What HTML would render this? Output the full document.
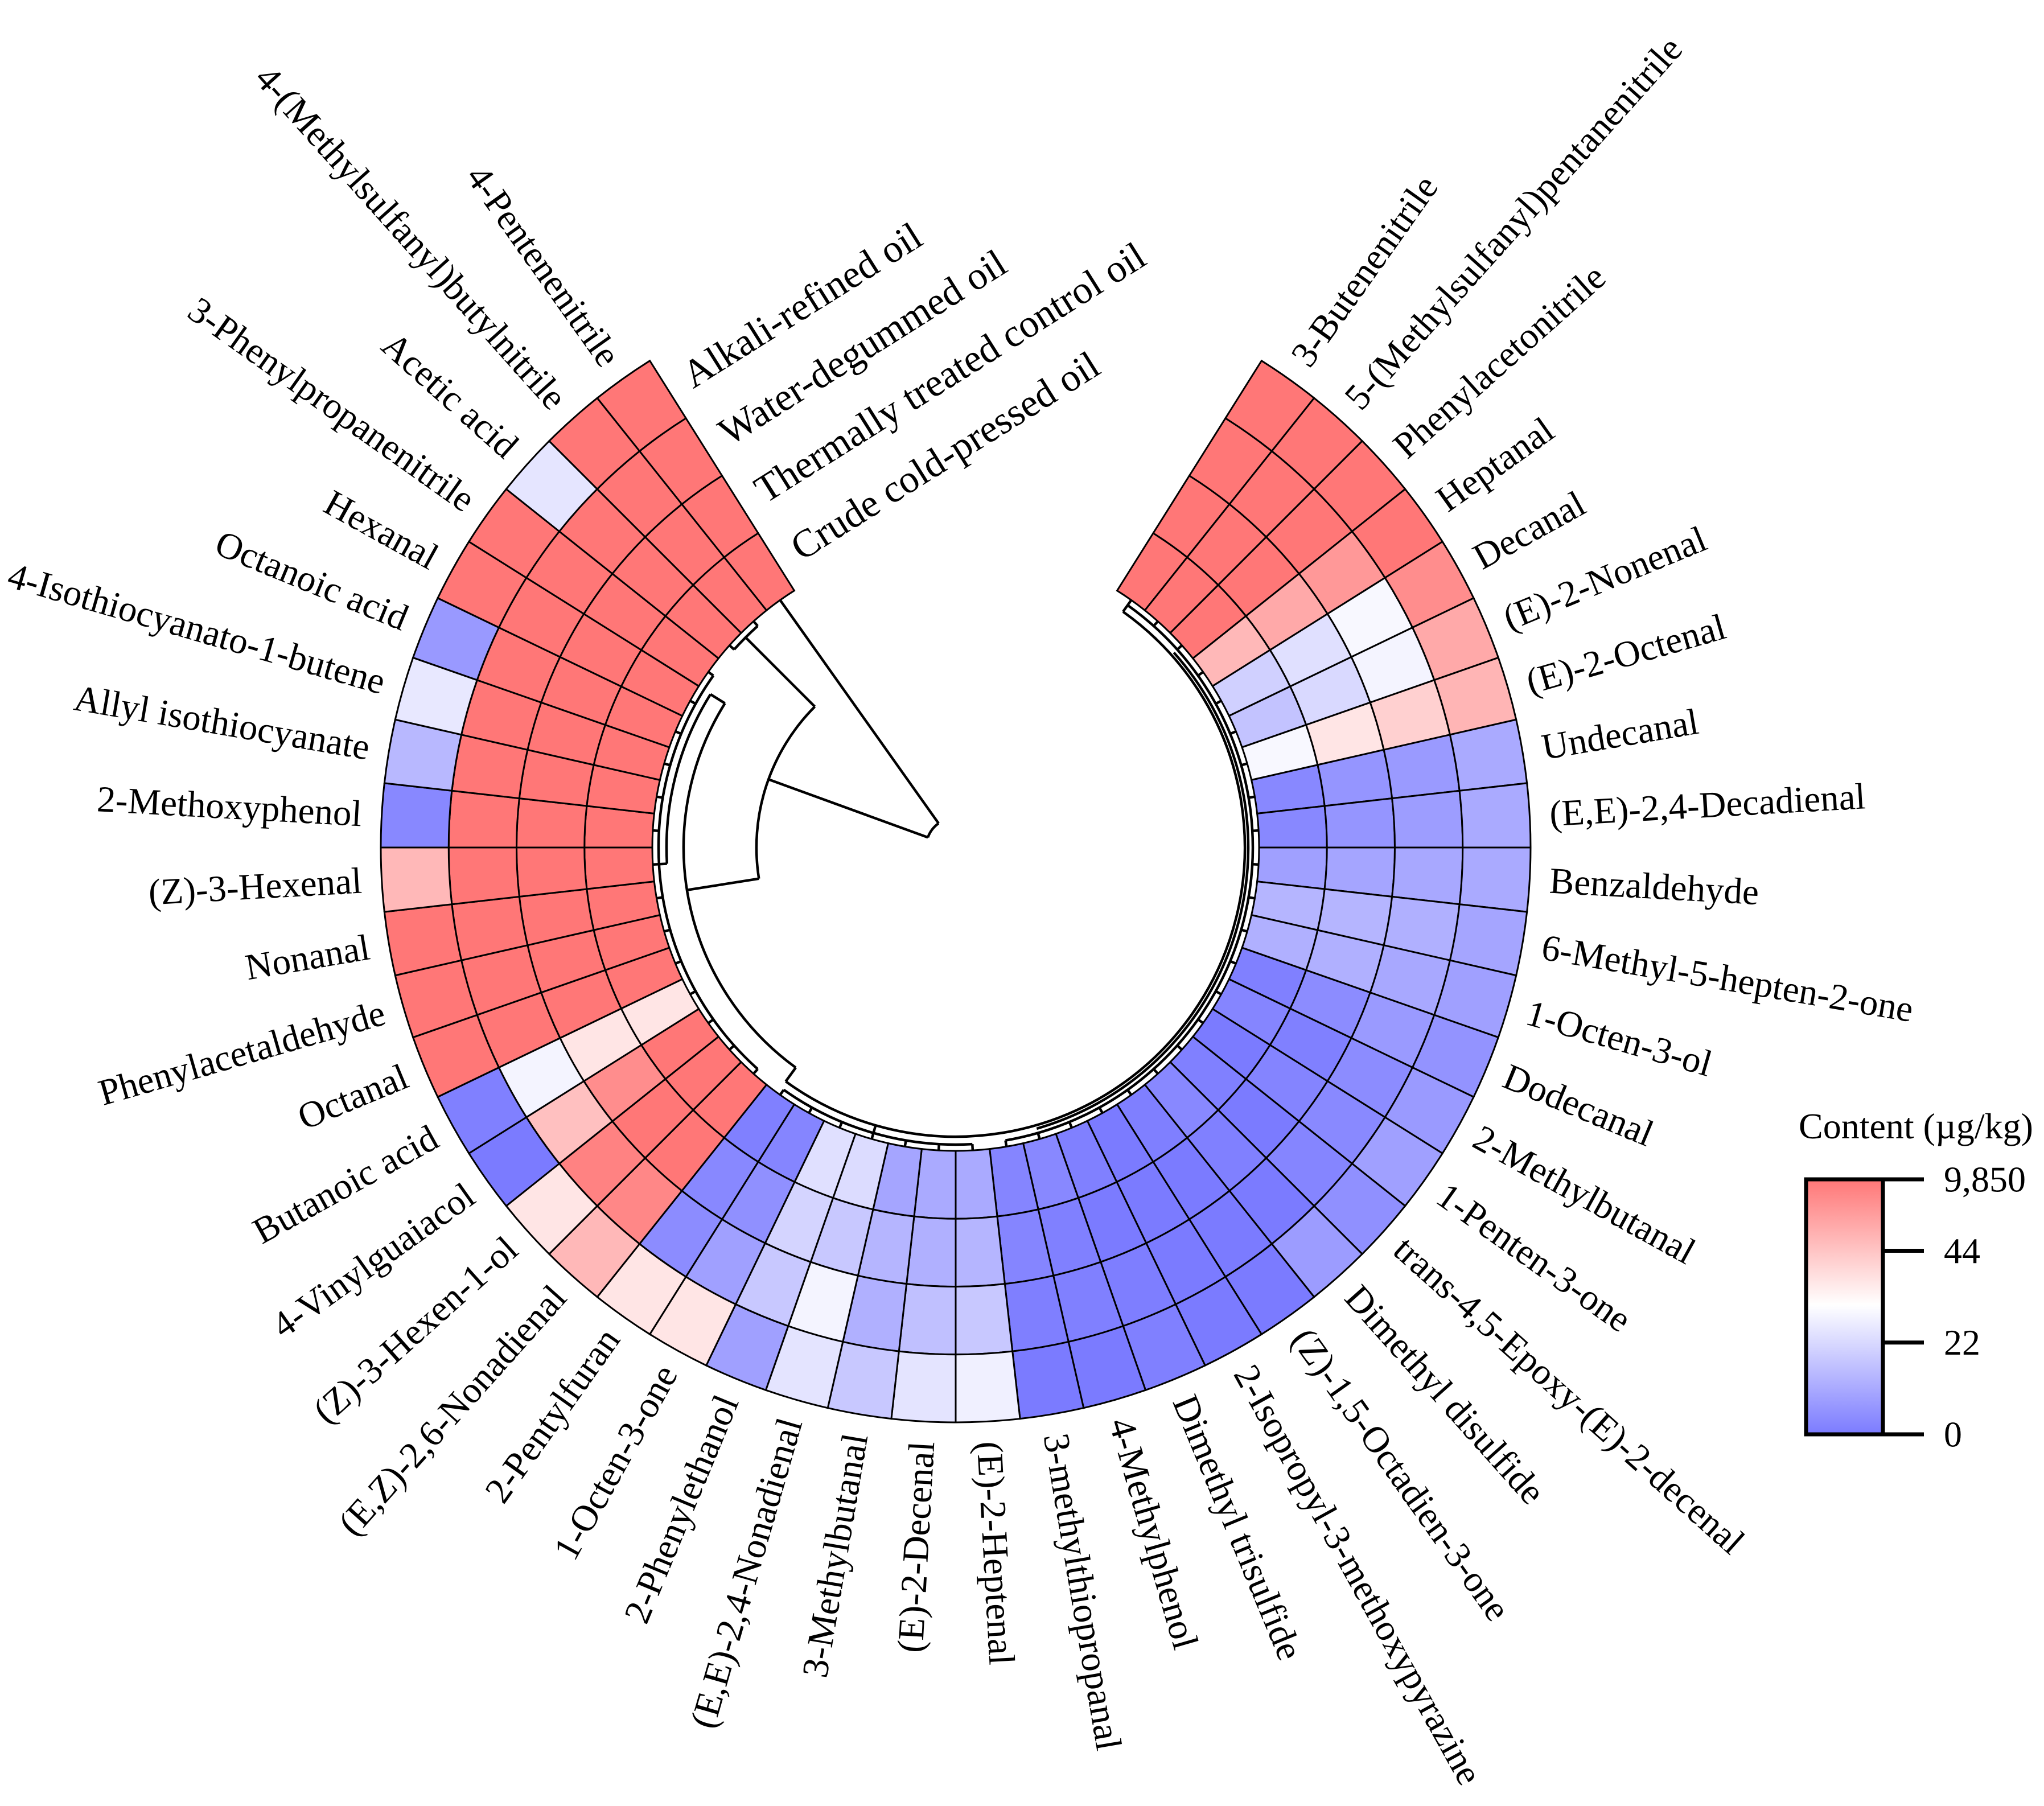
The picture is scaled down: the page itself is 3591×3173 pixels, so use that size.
<!DOCTYPE html>
<html><head><meta charset="utf-8"><title>Circular heatmap of volatile compounds</title>
<style>
html,body{margin:0;padding:0;background:#fff;}
svg{display:block;}
text{font-family:"Liberation Serif","Times New Roman",serif;fill:#000;}
</style></head>
<body>
<svg id="chart" xmlns="http://www.w3.org/2000/svg" width="3591" height="3173" viewBox="0 0 3591 3173">
<defs>
<linearGradient id="lg" x1="0" y1="1" x2="0" y2="0">
<stop offset="0" stop-color="rgb(123,123,255)"/>
<stop offset="0.507" stop-color="rgb(255,255,255)"/>
<stop offset="1" stop-color="rgb(255,119,119)"/>
</linearGradient>
</defs>
<g id="cells"></g>
<g id="dendro"></g>
<g id="rowlabels"></g>
<g id="collabels"></g>
<g id="legend">
<text x="3160" y="2000" font-size="64">Content (µg/kg)</text>
<rect x="3173" y="2072" width="135" height="448" fill="url(#lg)" stroke="#000" stroke-width="7"/>
<g id="legticks"></g>
</g>
</svg>
<script>
const rows = ["3-Butenenitrile","5-(Methylsulfanyl)pentanenitrile","Phenylacetonitrile","Heptanal","Decanal","(E)-2-Nonenal","(E)-2-Octenal","Undecanal","(E,E)-2,4-Decadienal","Benzaldehyde","6-Methyl-5-hepten-2-one","1-Octen-3-ol","Dodecanal","2-Methylbutanal","1-Penten-3-one","trans-4,5-Epoxy-(E)-2-decenal","Dimethyl disulfide","(Z)-1,5-Octadien-3-one","2-Isopropyl-3-methoxypyrazine","Dimethyl trisulfide","4-Methylphenol","3-methylthiopropanal","(E)-2-Heptenal","(E)-2-Decenal","3-Methylbutanal","(E,E)-2,4-Nonadienal","2-Phenylethanol","1-Octen-3-one","2-Pentylfuran","(E,Z)-2,6-Nonadienal","(Z)-3-Hexen-1-ol","4-Vinylguaiacol","Butanoic acid","Octanal","Phenylacetaldehyde","Nonanal","(Z)-3-Hexenal","2-Methoxyphenol","Allyl isothiocyanate","4-Isothiocyanato-1-butene","Octanoic acid","Hexanal","3-Phenylpropanenitrile","Acetic acid","4-(Methylsulfanyl)butylnitrile","4-Pentenenitrile"];
const columns = ["Crude cold-pressed oil","Thermally treated control oil","Water-degummed oil","Alkali-refined oil"];
const crude = [9850,9850,9850,1550,20,17,29.3,3.1,3.1,8.7,13.6,12.4,1.2,2.3,0,1.2,3.1,1,0,1.2,3.1,2.3,11,11,9.9,22.8,23.7,2.3,1.2,9850,9850,9850,36.8,9850,9850,9850,9850,9850,9850,9850,9850,9850,9850,9850,9850,9850];
const thermal = [9850,9850,9850,3470,23.7,22,36.8,6.1,6.1,9.9,13.6,12.4,4,1.2,2,0,1.2,0,0,0,1.2,2.3,13.6,12.4,13.6,18.1,21,4.9,3.1,9850,9850,7040,36.8,9850,9850,9850,9850,9850,9850,9850,9850,9850,9850,9850,9850,9850];
const water = [9850,9850,9850,5610,29.3,28.5,41.5,7.3,8,10.5,12.4,10.5,7.3,4,3.4,2.3,0,0,0,0.7,1.2,1,18.1,16.2,12.4,28.5,18.1,8.7,4,7790,8500,639,28.5,9850,9850,9850,9850,9850,9850,9850,9850,9850,9850,9850,9850,9850];
const alkali = [9850,9850,9850,9850,7040,3470,2040,11,11,11,9.9,8.7,5.7,7.3,8.7,4.9,7.8,0,0,1.2,0,0,27.4,24.6,18.1,24.6,8.7,36.8,36.8,1550,36.8,0,1.2,9850,9850,9850,1550,3.1,14.3,25.6,7,9850,9850,24.9,9850,9850];
const tickValues = [0,22,44,9850];
const tickLabels = ["0","22","44","9,850"];
const tickFrac = [0,0.36,0.72,1];

const NS="http://www.w3.org/2000/svg";
const cx=1679, cy=1489, rIn=533, ringW=119.25;
const a0=-57.857, w=90/14;
function mk(tag,attrs,parent){const e=document.createElementNS(NS,tag);for(const k in attrs)e.setAttribute(k,attrs[k]);parent.appendChild(e);return e;}
function pt(r,deg){const a=deg*Math.PI/180;return [cx+r*Math.cos(a),cy+r*Math.sin(a)];}
function valueToT(v){
  for(let i=0;i<tickValues.length-1;i++){
    if(v<=tickValues[i+1]){return tickFrac[i]+(tickFrac[i+1]-tickFrac[i])*(v-tickValues[i])/(tickValues[i+1]-tickValues[i]);}
  }
  return 1;
}
function color(v){
  const t=Math.max(0,Math.min(1,valueToT(v)));
  let r,g,b;
  if(t<0.507){const f=t/0.507;r=123+(255-123)*f;g=r;b=255;}
  else{const f=(t-0.507)/0.493;r=255;g=255-(255-119)*f;b=g;}
  return `rgb(${Math.round(r)},${Math.round(g)},${Math.round(b)})`;
}
function angleOf(i){return a0+(i+0.5)*w;}
function arcD(r,a1,a2){
  const p1=pt(r,a1),p2=pt(r,a2);
  const large=Math.abs(a2-a1)>180?1:0, sweep=a2>a1?1:0;
  return `M${p1[0]},${p1[1]} A${r},${r} 0 ${large} ${sweep} ${p2[0]},${p2[1]}`;
}

const series=[crude,thermal,water,alkali];
const cellsG=document.getElementById('cells');
for(let c=0;c<4;c++){
  const r1=rIn+c*ringW, r2=r1+ringW;
  for(let i=0;i<rows.length;i++){
    const s=a0+i*w, e=s+w;
    const p1=pt(r1,s),p2=pt(r2,s),p3=pt(r2,e),p4=pt(r1,e);
    const d=`M${p1[0]},${p1[1]} L${p2[0]},${p2[1]} A${r2},${r2} 0 0 1 ${p3[0]},${p3[1]} L${p4[0]},${p4[1]} A${r1},${r1} 0 0 0 ${p1[0]},${p1[1]}Z`;
    const el=mk('path',{d:d,fill:color(series[c][i]),stroke:'#000','stroke-width':3},cellsG);
    
    
  }
}

const rl=document.getElementById('rowlabels');
rows.forEach((name,i)=>{
  let th=angleOf(i);
  const p=pt(1045,th);
  let rot=th, anchor='start';
  if(th>90&&th<270){rot=th-180;anchor='end';}
  const t=mk('text',{x:p[0],y:p[1],'font-size':65,'text-anchor':anchor,'dominant-baseline':'central',transform:`rotate(${rot} ${p[0]} ${p[1]})`},rl);
  t.textContent=name;
  
  
});

const cl=document.getElementById('collabels');
const edge=a0+rows.length*w;
columns.forEach((name,c)=>{
  const rm=rIn+(c+0.5)*ringW;
  const base=pt(rm,edge);
  const tang=(edge+90)*Math.PI/180;
  const x=base[0]+38*Math.cos(tang), y=base[1]+38*Math.sin(tang);
  const t=mk('text',{x:x,y:y,'font-size':69,'dominant-baseline':'central',transform:`rotate(${edge+90-360} ${x} ${y})`},cl);
  t.textContent=name;
  
  
});

const dg=document.getElementById('dendro');
const sw=4.5;
function line(r1,r2,a){const p=pt(r1,a),q=pt(r2,a);mk('path',{d:`M${p[0]},${p[1]} L${q[0]},${q[1]}`,stroke:'#000','stroke-width':sw,fill:'none'},dg);}
function arc(r,a1,a2){mk('path',{d:arcD(r,a1,a2),stroke:'#000','stroke-width':sw,fill:'none'},dg);}
for(let i=0;i<45;i++){line(rIn,522,angleOf(i));}
arc(522,angleOf(0),angleOf(21));
arc(522,angleOf(22),angleOf(28));
line(522,508,angleOf(0));
line(522,508,angleOf(25));
arc(508,angleOf(0),126);
line(508,478,126);
arc(522,angleOf(29),angleOf(42));
line(522,508,angleOf(36));
arc(508,angleOf(36),212);
line(508,478,212);
arc(478,126,212);
line(478,350,171);
arc(514,angleOf(2),angleOf(20));
arc(522,angleOf(43),angleOf(44));
const m44=(angleOf(43)+angleOf(44))/2;
line(522,350,m44);
arc(350,171,m44);
line(350,52,200);
line(52,rIn,angleOf(45));
arc(52,200,angleOf(45));

const lt=document.getElementById('legticks');
const ly0=2520, ly1=2072;
tickFrac.forEach((f,k)=>{
  const y=ly0-(ly0-ly1)*f;
  const l=mk('line',{x1:3308,x2:3380,y1:y,y2:y,stroke:'#000','stroke-width':7},lt);
  
  
  const t=mk('text',{x:3415,y:y,'font-size':64,'dominant-baseline':'central'},lt);
  t.textContent=tickLabels[k];
  
  
});
</script>
</body></html>
